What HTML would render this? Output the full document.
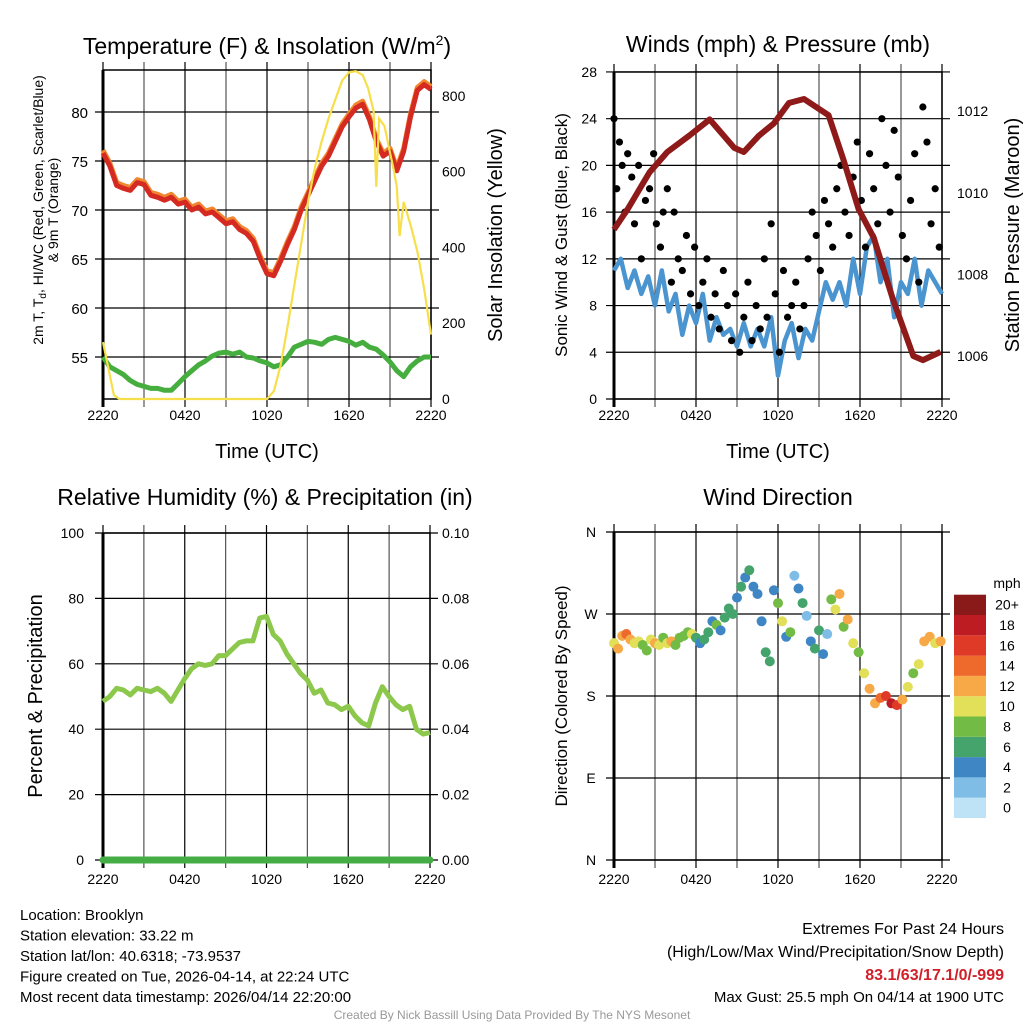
<!DOCTYPE html>
<html><head><meta charset="utf-8"><style>
body{margin:0;background:#fff;font-family:"Liberation Sans",sans-serif;}
svg text{font-family:"Liberation Sans",sans-serif;}
</style></head><body>
<svg id="c" width="1024" height="1024" viewBox="0 0 1024 1024" xmlns="http://www.w3.org/2000/svg"></svg>
<script>
// ---------- data ----------
const timeTicks = ["2220","0420","1020","1620","2220"];
const tempTicks = [55,60,65,70,75,80];
const insolTicks = [0,200,400,600,800];
const windTicks = [0,4,8,12,16,20,24,28];
const presTicks = [1006,1008,1010,1012];
const rhTicks = [0,20,40,60,80,100];
const precipTicks = ["0.00","0.02","0.04","0.06","0.08","0.10"];
const dirTicks = ["N","E","S","W","N"];
const speedBins = ["0","2","4","6","8","10","12","14","16","18","20+"];
const speedColors = ["#bfe3f6","#80bde6","#3f86c4","#45a36c","#72bb45","#e2df58","#f6a946","#ee6a2c","#de3a27","#bd1d22","#8a1a1a"];

const tempT = [0,0.5,1,1.5,2,2.5,3,3.5,4,4.5,5,5.5,6,6.5,7,7.5,8,8.5,9,9.5,10,10.5,11,11.5,12,12.5,13,13.5,14,14.5,15,15.5,16,16.5,17,17.5,18,18.5,19,19.5,20,20.5,21,21.5,22,22.5,23,23.5,24];
const tempVals = [75.8,74.5,72.5,72.2,72.0,72.8,72.6,71.5,71.3,71.0,71.3,70.6,70.8,70.0,70.3,69.6,69.8,69.2,68.6,68.8,68.0,67.6,66.8,65.0,63.5,63.3,64.8,66.5,68.0,70.0,71.5,73.0,74.5,75.5,77.0,78.5,79.5,80.4,80.8,79.2,77.0,75.5,76.0,74.0,76.0,79.5,82.2,82.8,82.3];
const dewVals = [55.0,54.0,53.6,53.2,52.6,52.2,52.0,51.8,51.8,51.6,51.6,52.3,53.0,53.6,54.2,54.6,55.1,55.4,55.5,55.3,55.5,55.0,54.9,54.6,54.4,54.0,54.2,55.0,56.0,56.3,56.6,56.5,56.3,56.8,57.0,56.8,56.6,56.2,56.5,56.0,55.8,55.2,54.5,53.6,53.0,54.0,54.6,55.0,55.0];
const insolT = [0,0.4,0.8,1.2,12.0,12.5,13,13.5,14,14.5,15,15.5,16,16.5,17,17.5,18,18.5,19,19.4,19.8,20.0,20.2,20.6,21,21.3,21.5,21.7,22,22.5,23,23.5,24];
const insolVals = [150,80,10,0,0,20,90,190,300,410,520,610,680,740,790,840,862,865,855,820,760,560,740,720,650,600,560,430,520,460,390,290,170];

const windT = [0,0.5,1,1.5,2,2.5,3,3.5,4,4.5,5,5.5,6,6.5,7,7.5,8,8.5,9,9.5,10,10.5,11,11.5,12,12.5,13,13.5,14,14.5,15,15.5,16,16.5,17,17.5,18,18.5,19,19.5,20,20.5,21,21.5,22,22.5,23,23.5,24];
const windVals = [11,12,9.5,11,9,10.5,8,11,7.5,9,5.5,8,6.5,9,5,7,5.5,6,4.5,6.5,4.5,6,4.5,7,2,5,6.5,3.5,6,5,7.5,10,8.5,10,8,12,9,13,14,10,12,7,10,9,12,8,11,10,9];
const gustT = [0,0.2,0.4,0.6,0.8,1.0,1.3,1.5,1.8,2.0,2.3,2.6,2.9,3.1,3.4,3.6,3.9,4.2,4.4,4.7,5.0,5.3,5.6,5.9,6.2,6.5,6.8,7.1,7.4,7.7,8.0,8.3,8.6,8.9,9.2,9.5,9.8,10.1,10.4,10.7,11.0,11.2,11.5,11.8,12.1,12.4,12.7,13.0,13.3,13.6,13.9,14.2,14.5,14.8,15.1,15.4,15.7,16.0,16.3,16.6,16.9,17.2,17.5,17.8,18.1,18.4,18.7,19.0,19.3,19.6,19.9,20.2,20.5,20.8,21.1,21.4,21.7,22.0,22.3,22.6,22.9,23.2,23.5,23.8];
const gustVals = [24,18,22,20,16,21,19,15,20,12,17,18,21,15,13,16,18,10,16,12,11,14,9,13,8,10,12,7,9,6,11,8,5,9,4,7,10,5,8,6,12,7,15,9,4,11,7,8,10,6,8,12,16,14,11,17,15,13,18,20,16,14,19,22,17,13,21,18,15,24,20,16,23,19,14,12,17,21,10,25,22,15,18,13];
const presT = [0,1.0,2.6,3.9,5.5,7.0,8.8,9.5,10.6,11.7,12.8,13.9,15.7,16.8,17.9,19.0,20.4,21.9,22.6,23.9];
const presVals = [1009.1,1009.6,1010.5,1011.0,1011.4,1011.8,1011.1,1011.0,1011.4,1011.7,1012.2,1012.3,1011.9,1010.8,1009.6,1008.9,1007.4,1006.0,1005.9,1006.1];

const rhT = [0,0.5,1,1.5,2,2.5,3,3.5,4,4.5,5,5.5,6,6.5,7,7.5,8,8.5,9,9.5,10,10.5,11,11.5,12,12.5,13,13.5,14,14.5,15,15.5,16,16.5,17,17.5,18,18.5,19,19.5,20,20.5,21,21.5,22,22.5,23,23.5,24];
const rhVals = [48.5,50,52.5,52,50.5,52.5,52,51.5,52.5,51,48.5,52,55.5,58.5,60,59.5,60,62.5,62.5,64.5,66.5,67,67,74,74.5,69,67,63,60,57,55,51,52,48,47.5,46,47,44,42,41,48,53,50,47.5,46,47,40,38.5,39];
const precipVals = [0,0,0,0,0,0,0,0,0,0,0,0,0,0,0,0,0,0,0,0,0,0,0,0,0];

const dirT = [0,0.3,0.6,0.9,1.2,1.5,1.8,2.1,2.4,2.7,3.0,3.3,3.6,3.9,4.2,4.5,4.8,5.1,5.4,5.7,6.0,6.3,6.6,6.9,7.2,7.5,7.8,8.1,8.4,8.7,9.0,9.3,9.6,9.9,10.2,10.5,10.8,11.1,11.4,11.7,12.0,12.3,12.6,12.9,13.2,13.5,13.8,14.1,14.4,14.7,15.0,15.3,15.6,15.9,16.2,16.5,16.8,17.1,17.5,17.9,18.3,18.7,19.1,19.5,19.9,20.3,20.7,21.1,21.5,21.9,22.3,22.7,23.1,23.5,23.9];
const dirVals = [238,232,246,248,242,238,240,236,230,242,238,236,244,238,240,236,244,246,250,248,244,238,242,250,262,258,252,266,276,270,288,300,310,318,300,292,262,228,218,296,282,262,245,250,312,298,282,268,240,232,252,226,248,286,275,292,256,264,238,228,205,188,172,178,180,172,170,176,190,205,215,240,245,238,240];
const dirSpeeds = [10,12,13,15,12,10,10,8,8,10,12,10,8,10,12,8,8,8,8,10,6,4,6,6,4,8,4,6,6,6,4,6,4,6,4,4,4,6,6,4,8,10,4,8,2,4,6,2,4,6,6,4,2,8,10,12,8,12,10,8,10,12,12,14,16,18,16,12,10,8,10,12,12,10,12];

// ---------- helpers ----------
const S = document.getElementById('c');
const NS = 'http://www.w3.org/2000/svg';
function el(tag, attrs, parent){ const e=document.createElementNS(NS,tag); for(const k in attrs) e.setAttribute(k,attrs[k]); (parent||S).appendChild(e); return e; }
function txt(x,y,s,size,anchor,extra){ const t=el('text',Object.assign({x:x,y:y,'font-size':size,'text-anchor':anchor||'middle',fill:'#000'},extra||{})); t.textContent=s; return t; }
function linePath(xs, ys){ return xs.map((x,i)=>(i?'L':'M')+x.toFixed(1)+','+ys[i].toFixed(1)).join(''); }

function panel(name){
  const g=el('g',{});
  
  
  return g;
}
function grid(g,x0,x1,y0,y1,hys){
  for(let i=0;i<=8;i++){ const x=x0+(x1-x0)*i/8; const l=el('line',{x1:x,x2:x,y1:y0-8,y2:y1+8,stroke:(i%2? '#555':'#000'),'stroke-width':1.2},g);   }
  hys.forEach(y=>{ const l=el('line',{x1:x0-8,x2:x1+8,y1:y,y2:y,stroke:'#000','stroke-width':1.2},g);   });
  const b=el('rect',{x:x0,y:y0,width:x1-x0,height:y1-y0,fill:'none',stroke:'#000','stroke-width':1.5},g);
   
  el('line',{x1:x0,x2:x0,y1:y0,y2:y1+8,stroke:'#000','stroke-width':3},g);
}
function xLabels(g,x0,x1,y){ timeTicks.forEach((s,i)=>{ const t=txt(x0+(x1-x0)*i/4,y,s,14);   g.appendChild(t);}); }

// ---------- Panel 1: temperature ----------
{
  const x0=103,x1=431,y0=70,y1=399;
  const X=t=>x0+(x1-x0)*t/24, YT=v=>357-(v-55)*9.8, YI=v=>399-v*0.379;
  const g=panel('temperature-panel');
  grid(g,x0,x1,y0,y1,tempTicks.map(YT));
  tempTicks.forEach(v=>{const t=txt(88,YT(v)+6,String(v),15,'end');   g.appendChild(t);});
  insolTicks.forEach(v=>{const t=txt(442,YI(v)+5,String(v),14,'start');   g.appendChild(t);});
  const xs=tempT.map(X);
  const o=el('path',{d:linePath(xs,tempVals.map(v=>YT(v+0.3))),fill:'none',stroke:'#f0862f','stroke-width':5,'stroke-linejoin':'round'},g);
   
  const r=el('path',{d:linePath(xs,tempVals.map(YT)),fill:'none',stroke:'#d42a22','stroke-width':5,'stroke-linejoin':'round'},g);
   
  const d=el('path',{d:linePath(xs,dewVals.map(YT)),fill:'none',stroke:'#46ae3f','stroke-width':5,'stroke-linejoin':'round'},g);
   
  const y=el('path',{d:linePath(insolT.map(X),insolVals.map(YI)),fill:'none',stroke:'#f7df4b','stroke-width':2.2},g);
   
  xLabels(g,x0,x1,420);
  let t=txt(267,54,'',23); t.innerHTML='Temperature (F) &amp; Insolation (W/m<tspan dy="-9" font-size="14">2</tspan><tspan dy="9">)</tspan>';  
  t=txt(267,458,'Time (UTC)',20);  
  t=txt(0,0,'',14,'middle',{transform:'translate(43,210) rotate(-90)'}); t.innerHTML='2m T, T<tspan dy="3" font-size="10">d</tspan><tspan dy="-3">, HI/WC (Red, Green, Scarlet/Blue)</tspan>';  
  t=txt(0,0,'& 9m T (Orange)',14,'middle',{transform:'translate(58,210) rotate(-90)'});  
  t=txt(0,0,'Solar Insolation (Yellow)',20,'middle',{transform:'translate(502,235) rotate(-90)'});  
}

// ---------- Panel 2: winds ----------
{
  const x0=614,x1=942,y0=72,y1=399;
  const X=t=>x0+(x1-x0)*t/24, YW=v=>399-v*11.68, YP=v=>356-(v-1006)*40.8;
  const g=panel('winds-panel');
  grid(g,x0,x1,y0,y1,windTicks.map(YW));
  windTicks.forEach(v=>{const t=txt(597,YW(v)+5,String(v),14,'end');   g.appendChild(t);});
  presTicks.forEach(v=>{const t=txt(957,YP(v)+5,String(v),14,'start');   g.appendChild(t);});
  const w=el('path',{d:linePath(windT.map(X),windVals.map(YW)),fill:'none',stroke:'#4a94d0','stroke-width':4.5,'stroke-linejoin':'round'},g);
   
  gustT.forEach((t,i)=>{ const c=el('circle',{cx:X(t),cy:YW(gustVals[i]),r:3.6,fill:'#000'},g);   });
  const p=el('path',{d:linePath(presT.map(X),presVals.map(YP)),fill:'none',stroke:'#8e1a1a','stroke-width':6,'stroke-linejoin':'round'},g);
   
  xLabels(g,x0,x1,420);
  let t=txt(778,52,'Winds (mph) & Pressure (mb)',23);  
  t=txt(778,458,'Time (UTC)',20);  
  t=txt(0,0,'Sonic Wind & Gust (Blue, Black)',17,'middle',{transform:'translate(567,235) rotate(-90)'});  
  t=txt(0,0,'Station Pressure (Maroon)',20,'middle',{transform:'translate(1019,235) rotate(-90)'});  
}

// ---------- Panel 3: RH ----------
{
  const x0=103,x1=430,y0=533,y1=860;
  const X=t=>x0+(x1-x0)*t/24, Y=v=>860-v*3.27;
  const g=panel('humidity-panel');
  grid(g,x0,x1,y0,y1,rhTicks.map(Y));
  rhTicks.forEach(v=>{const t=txt(84,Y(v)+5,String(v),14,'end');   g.appendChild(t);});
  precipTicks.forEach((s,i)=>{const t=txt(442,Y(i*20)+5,s,14,'start');   g.appendChild(t);});
  const l=el('path',{d:linePath(rhT.map(X),rhVals.map(Y)),fill:'none',stroke:'#8cc84b','stroke-width':5,'stroke-linejoin':'round'},g);
   
  const pr=el('path',{d:linePath(precipVals.map((v,i)=>X(i)),precipVals.map(v=>Y(v*1000))),fill:'none',stroke:'#45ad45','stroke-width':7,'stroke-linecap':'round'},g);
   
  xLabels(g,x0,x1,884);
  let t=txt(265,505,'Relative Humidity (%) & Precipitation (in)',23);  
  t=txt(0,0,'Percent & Precipitation',20,'middle',{transform:'translate(42,696) rotate(-90)'});  
}

// ---------- Panel 4: wind direction ----------
{
  const x0=614,x1=942,y0=532,y1=860;
  const X=t=>x0+(x1-x0)*t/24, Y=v=>860-v*328/360;
  const g=panel('wind-direction-panel');
  grid(g,x0,x1,y0,y1,dirTicks.map((s,i)=>Y(i*90)));
  dirTicks.forEach((s,i)=>{const t=txt(591,Y(i*90)+5,s,14);   g.appendChild(t);});
  dirT.forEach((t,i)=>{ const bin=Math.min(10,Math.floor(dirSpeeds[i]/2)); const c=el('circle',{cx:X(t),cy:Y(dirVals[i]),r:5,fill:speedColors[bin]},g);   });
  xLabels(g,x0,x1,884);
  const cb=el('g',{},g);
  
  
  speedColors.forEach((c,i)=>{ const y=818-(i+1)*20.3; const r=el('rect',{x:954,y:y,width:32,height:20.3,fill:c},cb);   const t=txt(1007,y+15,speedBins[i],14);   });
  let t=txt(1007,588,'mph',14);  
  t=txt(778,505,'Wind Direction',23);  
  t=txt(0,0,'Direction (Colored By Speed)',17,'middle',{transform:'translate(567,696) rotate(-90)'});  
}

// ---------- footer ----------
{
  const left=['Location: Brooklyn','Station elevation: 33.22 m','Station lat/lon: 40.6318; -73.9537','Figure created on Tue, 2026-04-14, at 22:24 UTC','Most recent data timestamp: 2026/04/14 22:20:00'];
  left.forEach((s,i)=>{const t=txt(20,920+i*20.5,s,15,'start');  });
  let t=txt(1004,934,'Extremes For Past 24 Hours',16,'end');  
  t=txt(1004,957,'(High/Low/Max Wind/Precipitation/Snow Depth)',16,'end');  
  t=txt(1004,980,'83.1/63/17.1/0/-999',16,'end',{fill:'#d0202a','font-weight':'bold'});  
  t=txt(1004,1002,'Max Gust: 25.5 mph On 04/14 at 1900 UTC',15,'end');  
  t=txt(512,1019,'Created By Nick Bassill Using Data Provided By The NYS Mesonet',12,'middle',{fill:'#999'});  
}
</script>
</body></html>
